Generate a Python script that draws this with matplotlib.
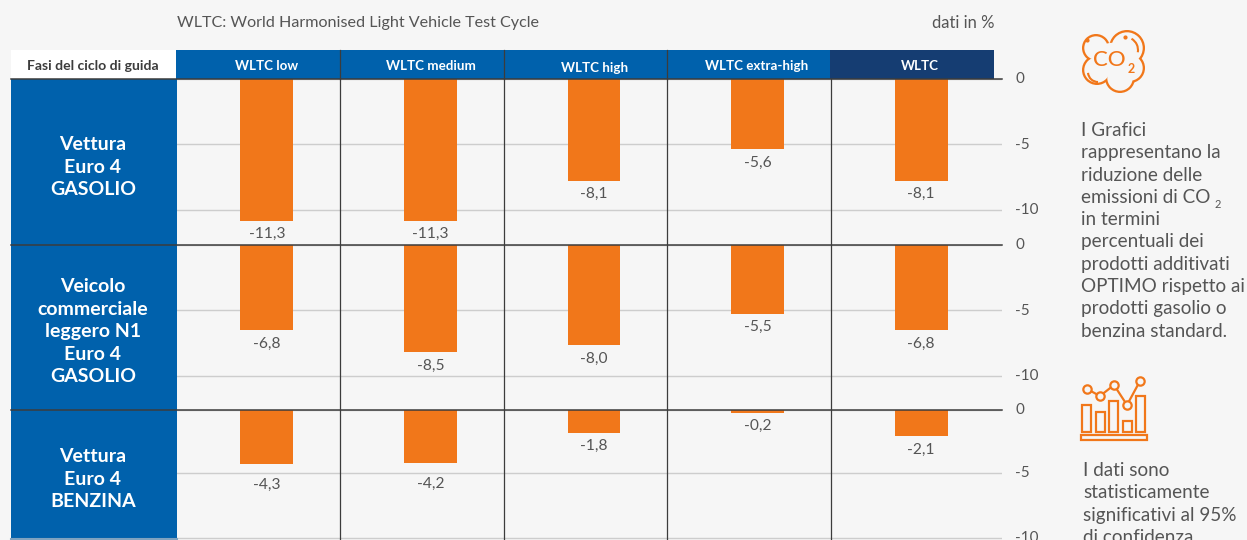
import matplotlib
matplotlib.use("Agg")
import matplotlib.pyplot as plt
from matplotlib.patches import Rectangle, Circle, Arc
from matplotlib.transforms import ScaledTranslation

plt.rcParams["font.family"] = ["Lato", "DejaVu Sans"]

phases = ["WLTC low", "WLTC medium", "WLTC high", "WLTC extra-high", "WLTC"]
euro4_gasolio = [-11.3, -11.3, -8.1, -5.6, -8.1]
n1_gasolio = [-6.8, -8.5, -8.0, -5.5, -6.8]
euro4_benzina = [-4.3, -4.2, -1.8, -0.2, -2.1]
tick_labels = ["0", "-5", "-10"]
row_labels = [
    ["Vettura", "Euro 4", "GASOLIO"],
    ["Veicolo", "commerciale", "leggero N1", "Euro 4", "GASOLIO"],
    ["Vettura", "Euro 4", "BENZINA"],
]
note_co2 = ["I Grafici", "rappresentano la", "riduzione delle", "emissioni di CO", "in termini",
            "percentuali dei", "prodotti additivati", "OPTIMO rispetto ai",
            "prodotti gasolio o", "benzina standard."]
note_stat = ["I dati sono", "statisticamente", "significativi al 95%", "di confidenza"]

BG = "#F6F6F6"
BLUE = "#0061AC"
NAVY = "#153D72"
ORANGE = "#F1771A"
TEXT = "#555555"
DARK = "#3C3C3C"
GRID = "#CDCDCD"
W, H = 1247, 540
PX_PER_UNIT = 12.55

fig = plt.figure(figsize=(W / 100, H / 100), dpi=100, facecolor=BG)


def add_panel(values, top, bottom, ticks, label_shift):
    ax = fig.add_axes([177 / W, 1 - bottom / H, (1002 - 177) / W, (bottom - top) / H])
    ax.set_facecolor("none")
    ax.bar(range(len(values)), values, width=0.324, color=ORANGE, zorder=3)
    ax.set_xlim(-0.55, 4.495)
    ax.set_ylim(-(bottom - top) / PX_PER_UNIT, 0)
    ax.set_xticks([])
    ax.yaxis.tick_right()
    ax.set_yticks(ticks)
    ax.set_yticklabels(tick_labels, fontsize=11, color=TEXT, ha="left")
    ax.tick_params(axis="y", length=0, pad=9.4)
    up = ScaledTranslation(0, 0.8 / 72, fig.dpi_scale_trans)
    for lab in ax.get_yticklabels():
        lab.set_transform(lab.get_transform() + up)
    for s in ax.spines.values():
        s.set_visible(False)
    ax.grid(axis="y", color=GRID, lw=1.0, zorder=1)
    ax.set_axisbelow(True)
    for sep in [0.446, 1.449, 2.447, 3.449]:
        ax.axvline(sep, color=DARK, lw=0.9, zorder=2)
    for i, v in enumerate(values):
        ax.annotate(f"{v:.1f}".replace(".", ","), (i, v), xytext=(0, -4.5 - label_shift[i]),
                    textcoords="offset points", ha="center", va="top", fontsize=11.2, color=TEXT, zorder=4)
    return ax


add_panel(euro4_gasolio, 79, 245, [0, -5.2, -10.4], [0, 0, 0, 0, 0])
add_panel(n1_gasolio, 245, 410, [0, -5.2, -10.4], [0, 1, 0, 0, 0])
add_panel(euro4_benzina, 410, 540, [0, -5.02, -10.2], [5.5, 5.5, 0, 0, 0])

# overlay in pixel coordinates for table header, row blocks, notes and icons
ov = fig.add_axes([0, 0, 1, 1], zorder=5)
ov.set_xlim(0, W)
ov.set_ylim(H, 0)
ov.axis("off")


def box(x0, y0, x1, y1, color):
    ov.add_patch(Rectangle((x0, y0), x1 - x0, y1 - y0, color=color, lw=0))


box(11, 50, 176, 79, "white")
box(176, 50, 830, 79, BLUE)
box(830, 50, 994, 79, NAVY)
box(11, 79, 177, 540, BLUE)
ov.plot([11, 177], [539, 539], color="#7FA3C0", lw=1.5)

for x in [339.5, 503.5, 667]:
    ov.plot([x, x], [50, 79], color=DARK, lw=0.9)
for y in [79, 245, 410]:
    ov.plot([11, 1002], [y, y], color=DARK, lw=1.1)

ov.text(177, 23, "WLTC: World Harmonised Light Vehicle Test Cycle", fontsize=11.65, color=TEXT, va="center")
ov.text(995, 23, "dati in %", fontsize=12, color=TEXT, va="center", ha="right")
ov.text(93, 66, "Fasi del ciclo di guida", fontsize=10.1, fontweight="bold", color=DARK, ha="center", va="center")

for name, x, y in zip(phases, [267, 430.5, 594.5, 757, 920], [65.5, 65.5, 67.5, 65.5, 65.5]):
    ov.text(x, y, name, fontsize=9.6, fontweight="bold", color="white", ha="center", va="center")

for lines, y0 in zip(row_labels, [145, 287, 457]):
    for i, line in enumerate(lines):
        ov.text(93, y0 + i * 22.4, line, fontsize=14, fontweight="bold", color="white", ha="center", va="center")

for i, line in enumerate(note_co2):
    ov.text(1081, 130.5 + i * 22.3, line, fontsize=13.6, color=TEXT, va="center")
ov.text(1215, 205, "2", fontsize=8, color=TEXT, va="center")
for i, line in enumerate(note_stat):
    ov.text(1083, 470.5 + i * 22.3, line, fontsize=13.6, color=TEXT, va="center")

# CO2 cloud icon: union of lobes, then background discs to leave the outline
lobes = [(1096, 48, 14), (1127, 48, 18), (1130, 68, 15), (1120, 78, 15), (1097, 70, 15)]
for cx, cy, r in lobes:
    ov.add_patch(Circle((cx, cy), r, color=ORANGE, lw=0))
for cx, cy, r in lobes + [(1112, 60, 19.5)]:
    ov.add_patch(Circle((cx, cy), r - 2.3, color=BG, lw=0, zorder=3))
ov.add_patch(Arc((1125, 50), 26, 26, theta1=-60, theta2=10, color=ORANGE, lw=1.5, zorder=4))
ov.add_patch(Arc((1098, 72), 20, 20, theta1=90, theta2=175, color=ORANGE, lw=1.5, zorder=4))
ov.text(1109, 60.5, "CO", fontsize=16, fontweight="medium", color=ORANGE, ha="center", va="center", zorder=4)
ov.text(1131.5, 69, "2", fontsize=9, fontweight="bold", color=ORANGE, ha="center", va="center", zorder=4)
ov.plot([1087, 1125], [40, 37], ls="none", marker="o", ms=2, color=ORANGE, zorder=4)

# statistics icon
for x0, x1, top in [(1082, 1091, 405), (1095.5, 1104.5, 412), (1108.5, 1118, 401), (1122.5, 1131.5, 421), (1136, 1145, 396)]:
    ov.add_patch(Rectangle((x0, top), x1 - x0, 432 - top, fc="none", ec=ORANGE, lw=1.6))
ov.add_patch(Rectangle((1081, 435), 66, 5, fc="none", ec=ORANGE, lw=1.6))
ov.plot([1087, 1100, 1114, 1127, 1140], [389, 396, 385, 405, 381], color=ORANGE, lw=1.6,
        marker="o", ms=6, mfc=BG, mec=ORANGE, mew=1.6)

fig.savefig("out.png", dpi=100, facecolor=BG)
